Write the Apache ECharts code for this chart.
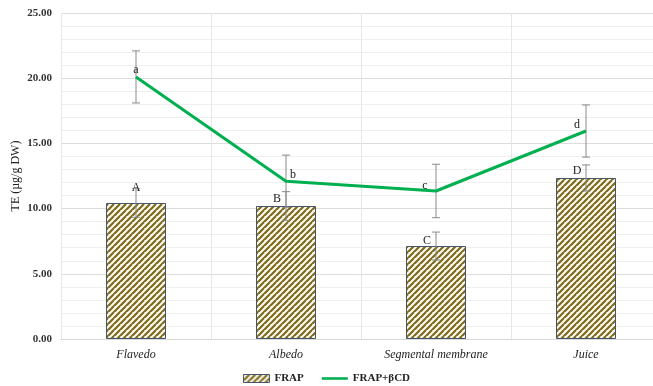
<!DOCTYPE html>
<html>
<head>
<meta charset="utf-8">
<script src="https://cdn.jsdelivr.net/npm/echarts@6/dist/echarts.min.js"></script>
<style>
  html, body { margin: 0; padding: 0; background: #fff; overflow: hidden; }
  #chart { width: 653px; height: 386px; }
</style>
</head>
<body>
<div id="chart"></div>
<script>
var categories = ['Flavedo', 'Albedo', 'Segmental membrane', 'Juice'];
var frap = [10.43, 10.2, 7.13, 12.35];
var frapErr = [1.1, 1.1, 1.07, 1.0];
var frapCD = [20.1, 12.1, 11.35, 15.95];
var frapCDErr = [2.0, 2.0, 2.05, 2.0];
var frapLetters = ['A', 'B', 'C', 'D'];
var frapCDLetters = ['a', 'b', 'c', 'd'];
var yTicks = [0, 5, 10, 15, 20, 25];

// where each letter sits around its point
var frapLetterPos = [[0, -9], [-9, -1], [-9, 1], [-9, -1]];
var frapCDLetterPos = [[0, -1], [7, 0], [-11, 1], [-9, 0]];

var serif = '"Liberation Serif", "DejaVu Serif", serif';

// hatch pattern
function makeHatch() {
  var c = document.createElement('canvas');
  c.width = 6; c.height = 6;
  var g = c.getContext('2d');
  g.fillStyle = '#fdfbef';
  g.fillRect(0, 0, 6, 6);
  g.strokeStyle = '#7d6a1e';
  g.lineWidth = 2.2;
  g.beginPath();
  for (var k = -6; k <= 12; k += 6) {
    g.moveTo(k - 6, 12);
    g.lineTo(k + 6, 0);
  }
  g.stroke();
  return c;
}
var hatch = { image: makeHatch(), repeat: 'repeat' };

function errData(vals, errs, letters, pos) {
  return vals.map(function (v, i) { return [i, v, errs[i], letters[i], pos[i][0], pos[i][1]]; });
}

function renderErr(params, api) {
  var i = api.value(0), v = api.value(1), e = api.value(2);
  var hi = api.coord([i, v + e]);
  var lo = api.coord([i, v - e]);
  var st = { stroke: '#8a8a8a', lineWidth: 1 };
  return {
    type: 'group',
    children: [
      { type: 'line', shape: { x1: hi[0], y1: hi[1], x2: lo[0], y2: lo[1] }, style: st },
      { type: 'line', shape: { x1: hi[0] - 4, y1: hi[1], x2: hi[0] + 4, y2: hi[1] }, style: st },
      { type: 'line', shape: { x1: lo[0] - 4, y1: lo[1], x2: lo[0] + 4, y2: lo[1] }, style: st }
    ]
  };
}

function renderLetter(params, api) {
  var i = api.value(0), v = api.value(1);
  var p = api.coord([i, v]);
  return {
    type: 'text',
    x: p[0] + api.value(4), y: p[1] + api.value(5),
    style: {
      text: String(api.value(3)),
      fill: '#222', font: '12px ' + serif,
      align: 'center', verticalAlign: 'bottom'
    }
  };
}

var chart = echarts.init(document.getElementById('chart'));
chart.setOption({
  animation: false,
  // the original plot area runs past the right edge of the picture
  grid: { left: 61, right: -8, top: 13, bottom: 47, outerBoundsMode: 'none', containLabel: false },
  legend: {
    bottom: -3, left: 'center', itemGap: 18,
    textStyle: { fontFamily: serif, fontWeight: 'bold', fontSize: 11, color: '#222' },
    data: [
      { name: 'FRAP', icon: 'rect', itemStyle: { color: hatch, borderColor: '#44546a', borderWidth: 1 } },
      { name: 'FRAP+βCD', icon: 'path://M0,0 L30,0 L30,3 L0,3 Z', itemStyle: { color: '#00b050' } }
    ],
    itemWidth: 26, itemHeight: 8
  },
  xAxis: {
    type: 'category',
    data: categories,
    axisLine: { lineStyle: { color: '#d9d9d9' } },
    axisTick: { show: false },
    splitLine: { show: true, lineStyle: { color: '#e6e6e6' } },
    axisLabel: { fontFamily: serif, fontStyle: 'italic', fontSize: 12, color: '#222', margin: 10 }
  },
  yAxis: {
    type: 'value',
    min: yTicks[0], max: yTicks[yTicks.length - 1], interval: 5,
    name: 'TE (µg/g DW)', nameLocation: 'middle', nameGap: 39, nameMoveOverlap: false,
    nameTextStyle: { fontFamily: serif, fontSize: 12, color: '#222' },
    axisLabel: {
      formatter: function (v) { return v.toFixed(2); },
      fontFamily: serif, fontWeight: 'bold', fontSize: 11, color: '#333', margin: 9
    },
    axisLine: { show: false },
    axisTick: { show: false },
    splitLine: { lineStyle: { color: '#dcdcdc' } },
    minorTick: { show: false, splitNumber: 5 },
    minorSplitLine: { show: true, lineStyle: { color: '#efefef' } }
  },
  series: [
    {
      name: 'FRAP', type: 'bar', data: frap, barWidth: 60,
      itemStyle: { color: hatch, borderColor: '#44546a', borderWidth: 1 },
      z: 2
    },
    {
      name: 'FRAP+βCD', type: 'line', data: frapCD, showSymbol: false, symbol: 'none',
      lineStyle: { color: '#00b050', width: 3 }, itemStyle: { color: '#00b050' },
      z: 4
    },
    {
      type: 'custom', name: 'errFRAP', renderItem: renderErr,
      data: errData(frap, frapErr, frapLetters, frapLetterPos), z: 3
    },
    {
      type: 'custom', name: 'errCD', renderItem: renderErr,
      data: errData(frapCD, frapCDErr, frapCDLetters, frapCDLetterPos), z: 3
    },
    {
      type: 'custom', name: 'lblFRAP', renderItem: renderLetter,
      data: errData(frap, frapErr, frapLetters, frapLetterPos), z: 5
    },
    {
      type: 'custom', name: 'lblCD', renderItem: renderLetter,
      data: errData(frapCD, frapCDErr, frapCDLetters, frapCDLetterPos), z: 5
    }
  ]
});
</script>
</body>
</html>
